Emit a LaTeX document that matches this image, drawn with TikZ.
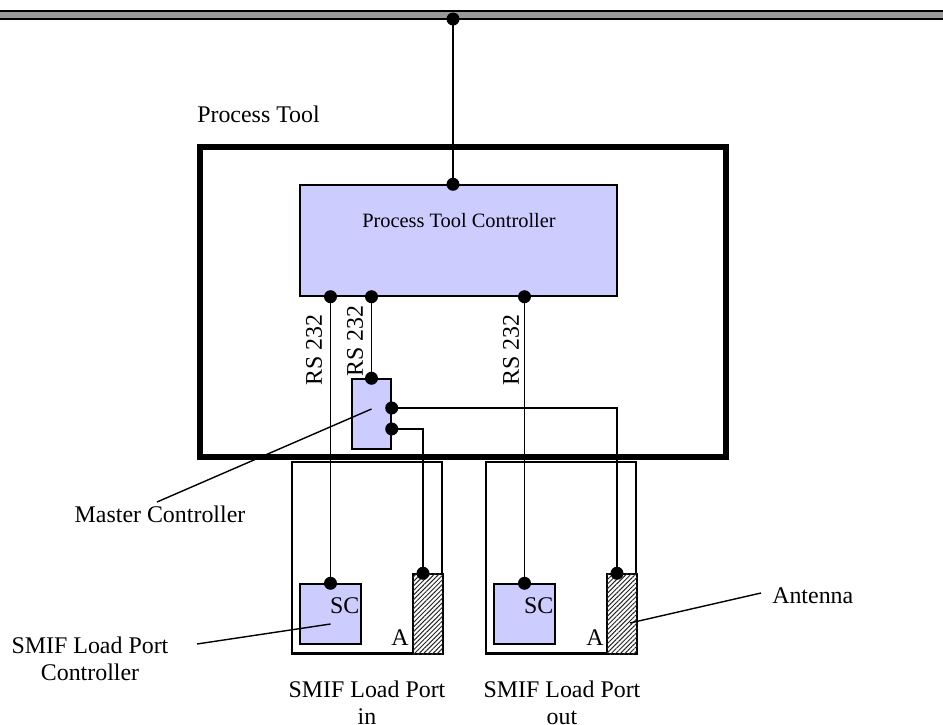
\documentclass[tikz,border=0pt]{standalone}
\usepackage{fontspec}
\setmainfont{Liberation Serif}
\usepackage{tikz}
\usetikzlibrary{positioning,calc,patterns.meta}
\definecolor{ctrlblue}{HTML}{CCCCFF}
\definecolor{busgray}{HTML}{999999}

\begin{document}
\begin{tikzpicture}[x=0.025cm,y=-0.025cm,
    every node/.style={font=\fontsize{17}{19.2}\selectfont, inner sep=0pt},
    portbox/.style={draw, line width=2.1pt},
    ctrl/.style={draw, line width=1pt, fill=ctrlblue},
    antbox/.style={draw, line width=1pt, fill=white,
        postaction={pattern={Lines[angle=45, distance=2.3pt, line width=0.7pt]}, pattern color=black!85}},
    wire/.style={line width=1pt}]
    \useasboundingbox (0,0) rectangle (943,725);

    % bus and tool
    \node[draw, line width=1.5pt, fill=busgray, minimum width=24cm, minimum height=0.22cm] (bus) at (471.5,15) {};
    \node[draw, line width=4.25pt, minimum width=13.15cm, minimum height=7.75cm] (tool) at (463,302) {};
    \node[anchor=south west] (tooltitle) at (197,123) {Process Tool};
    \node[ctrl, minimum width=7.925cm, minimum height=2.775cm] (ptc) at (458.5,240.5) {};
    \node[font=\fontsize{14.5}{17}\selectfont] (ptclabel) at (459,221) {Process Tool Controller};
    \node[ctrl, minimum width=0.975cm, minimum height=1.75cm] (mc) at (371.5,414) {};

    % load ports
    \node[portbox, minimum width=3.75cm, minimum height=4.775cm] (portin) at (367,557.5) {};
    \node[portbox, minimum width=3.75cm, minimum height=4.775cm] (portout) at (561,557.5) {};
    \node[ctrl, minimum width=1.525cm, minimum height=1.5cm] (scin) at (330.5,614) {};
    \node[ctrl, minimum width=1.525cm, minimum height=1.5cm] (scout) at (524.5,614) {};
    \node[antbox, minimum width=0.75cm, minimum height=2cm] (antin) at (428,614) {};
    \node[antbox, minimum width=0.75cm, minimum height=2cm] (antout) at (622,614) {};
    \node[anchor=north east] (scinlabel) at ($(scin.north east)+(-2,14)$) {SC};
    \node[anchor=north east] (scoutlabel) at ($(scout.north east)+(-2,14)$) {SC};
    \node (ainlabel) at (400,638) {A};
    \node (aoutlabel) at (595,638) {A};

    % wiring
    \coordinate (tap) at (453,19);
    \coordinate (ptcin) at (tap |- ptc.north);
    \coordinate (ptcscin) at (scin.north |- ptc.south);
    \coordinate (ptcmc) at (mc.north |- ptc.south);
    \coordinate (ptcscout) at (scout.north |- ptc.south);
    \coordinate (mca) at ($(mc.east)+(0,-6)$);
    \coordinate (mcb) at ($(mc.east)+(0,15)$);
    \coordinate (antintop) at ($(antin.north)+(-5,0)$);
    \coordinate (antouttop) at ($(antout.north)+(-5,0)$);
    \draw[wire] (tap) -- (ptcin);
    \draw[wire] (ptcscin) -- (scin.north);
    \draw[wire] (ptcmc) -- (mc.north);
    \draw[wire] (ptcscout) -- (scout.north);
    \draw[wire] (mca) -| (antouttop);
    \draw[wire] (mcb) -| (antintop);
    \foreach \p in {tap,ptcin,ptcscin,ptcmc,ptcscout,scin.north,mc.north,scout.north,mca,mcb,antintop,antouttop}
        \fill (\p) circle[radius=6.5];

    \node[rotate=90] (rsa) at (314,350) {RS 232};
    \node[rotate=90] (rsb) at (355,341) {RS 232};
    \node[rotate=90] (rsc) at (511,350) {RS 232};

    % callouts
    \node[anchor=north] (mclabel) at (160,506) {Master Controller};
    \draw[wire] ($(mclabel.north)+(-3,-4)$) -- ($(mc.center)+(0,-5)$);
    \node[anchor=north, align=center] (slpclabel) at (90,637) {SMIF Load Port\\Controller};
    \coordinate (slpctip) at (197,644);
    \draw[wire] (slpctip) -- ($(scin.center)+(0,10)$);
    \node[anchor=west] (antlabel) at (772,596) {Antenna};
    \draw[wire] ($(antlabel.west)+(-11,-3)$) -- ($(antout.center)+(8,9)$);
    \node[anchor=north, align=center] (portinlabel) at (367,681) {SMIF Load Port\\in};
    \node[anchor=north, align=center] (portoutlabel) at (562,681) {SMIF Load Port\\out};
\end{tikzpicture}
\end{document}
